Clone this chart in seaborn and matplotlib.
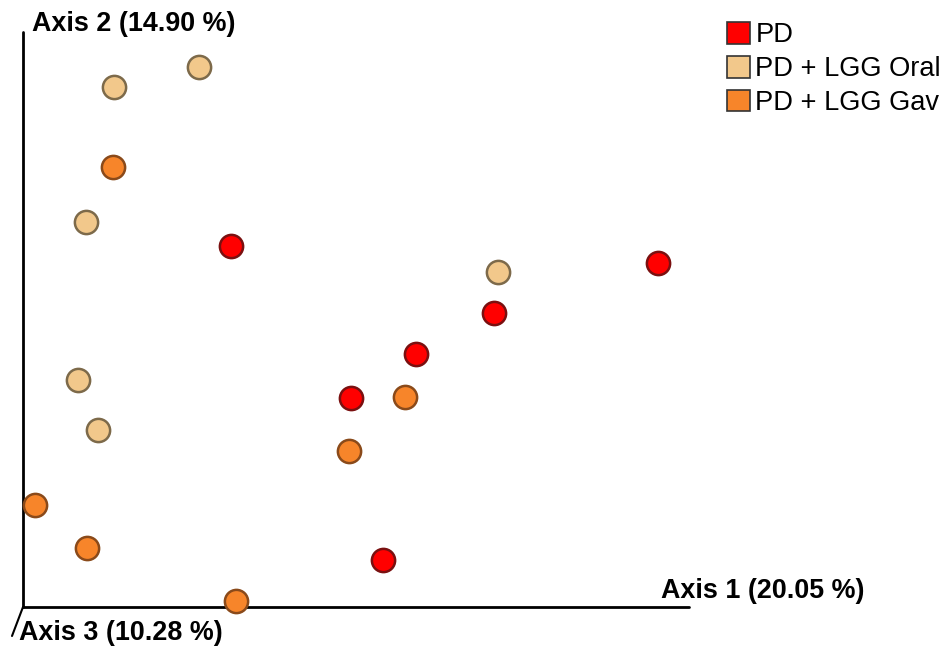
import matplotlib
matplotlib.use("Agg")
import matplotlib.pyplot as plt
from matplotlib.patches import Patch
import pandas as pd
import seaborn as sns

# PCoA coordinates (Axis 1, Axis 2) per sample, projected onto the plot plane
pd_axis1 = [208, 635, 471, 393, 328, 360]
pd_axis2 = [361, 344, 294, 253, 209, 47]

oral_axis1 = [176, 91, 63, 475, 55, 75]
oral_axis2 = [540, 520, 385, 335, 227, 177]

gav_axis1 = [90, 382, 326, 12, 64, 213]
gav_axis2 = [440, 210, 156, 102, 59, 6]

groups = ["PD", "PD + LGG Oral", "PD + LGG Gav"]
colors = {"PD": "#ff0000", "PD + LGG Oral": "#f2c88b", "PD + LGG Gav": "#f7852a"}
edges = {"PD": "#7a1010", "PD + LGG Oral": "#7d6a4a", "PD + LGG Gav": "#8a4a1a"}

axis_labels = ["Axis 1 (20.05 %)", "Axis 2 (14.90 %)", "Axis 3 (10.28 %)"]

df = pd.concat([
    pd.DataFrame({"Axis 1": pd_axis1, "Axis 2": pd_axis2, "group": groups[0]}),
    pd.DataFrame({"Axis 1": oral_axis1, "Axis 2": oral_axis2, "group": groups[1]}),
    pd.DataFrame({"Axis 1": gav_axis1, "Axis 2": gav_axis2, "group": groups[2]}),
], ignore_index=True)

sns.set_style("white")
plt.rcParams["font.family"] = ["Liberation Sans", "DejaVu Sans"]
plt.rcParams["text.color"] = "black"

fig = plt.figure(figsize=(9.42, 6.46), dpi=100)
ax = fig.add_axes([0, 0, 1, 1])
ax.set_xlim(-23, 919)
ax.set_ylim(-39, 607)
ax.axis("off")

# axis lines of the 3D frame
ax.plot([0, 666], [0, 0], color="black", lw=2, zorder=1)
ax.plot([0, 0], [0, 575], color="black", lw=2, zorder=1)
ax.plot([0, -11], [0, -29], color="black", lw=1.5, zorder=1)

for g in groups:
    sub = df[df["group"] == g]
    sns.scatterplot(data=sub, x="Axis 1", y="Axis 2", ax=ax, s=280,
                    color=colors[g], edgecolor=edges[g], linewidth=1.8,
                    legend=False, zorder=3)

ax.text(9, 583, axis_labels[1], fontsize=19.4, fontweight="bold", va="center", ha="left", color="black")
ax.text(638, 16, axis_labels[0], fontsize=19.4, fontweight="bold", va="center", ha="left", color="black")
ax.text(-4, -26, axis_labels[2], fontsize=19.4, fontweight="bold", va="center", ha="left", color="black")

handles = [Patch(facecolor=colors[g], edgecolor="#333333", linewidth=1.2, label=g) for g in groups]
leg = fig.legend(handles=handles, loc="upper left", bbox_to_anchor=(0.7715, 0.966),
                 frameon=False, fontsize=19.6, handlelength=0.85, handleheight=0.85,
                 handletextpad=0.2, labelspacing=0.28, borderpad=0, borderaxespad=0)
for t in leg.get_texts():
    t.set_color("black")

fig.savefig("out.png", dpi=100)
